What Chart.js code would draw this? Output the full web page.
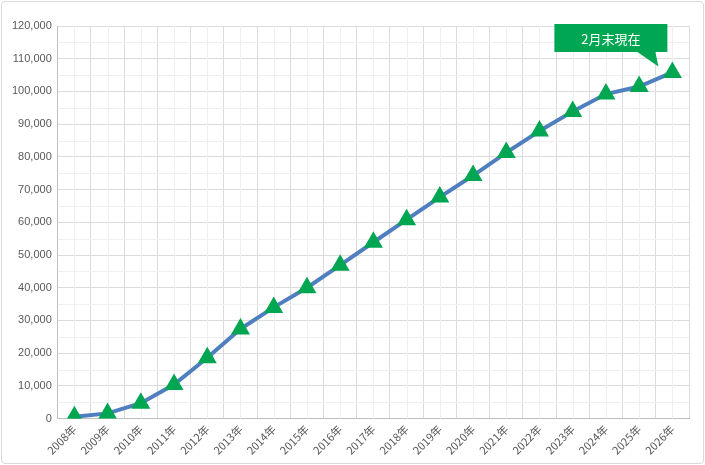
<!DOCTYPE html>
<html>
<head>
<meta charset="utf-8">
<script src="https://cdn.jsdelivr.net/npm/chart.js@4"></script>
<style>
    body { margin: 0; background: #fff; }
    #wrap { position: absolute; left: 1px; top: 1px; width: 701px; height: 461px; border: 1px solid #d9d9d9; border-radius: 4px; }
</style>
</head>
<body>
<div id="wrap"><canvas id="chart"></canvas></div>
<script>
// Data
const years = ['2008年', '2009年', '2010年', '2011年', '2012年', '2013年', '2014年', '2015年', '2016年', '2017年',
    '2018年', '2019年', '2020年', '2021年', '2022年', '2023年', '2024年', '2025年', '2026年'];
const counts = [600, 1600, 4700, 10400, 18600, 27400, 34000, 40000, 46900, 53900,
    60800, 67700, 74300, 81300, 87900, 93900, 99200, 101500, 105800];
const calloutText = '2月末現在';

// minor grid: half steps on both axes
const minorGrid = {
    id: 'minorGrid',
    beforeDatasetsDraw(chart) {
        const { ctx, chartArea: a, scales: { x, y } } = chart;
        ctx.save();
        ctx.strokeStyle = '#efefef';
        ctx.lineWidth = 1;
        for (let i = 0; i < years.length; i++) {
            const px = Math.round(x.getPixelForValue(i)) + 0.5;
            ctx.beginPath(); ctx.moveTo(px, a.top); ctx.lineTo(px, a.bottom); ctx.stroke();
        }
        for (let v = 5000; v < 120000; v += 10000) {
            const py = Math.round(y.getPixelForValue(v)) + 0.5;
            ctx.beginPath(); ctx.moveTo(a.left, py); ctx.lineTo(a.right, py); ctx.stroke();
        }
        ctx.restore();
    }
};

// callout box pointing at the last point
const callout = {
    id: 'callout',
    afterDatasetsDraw(chart) {
        const { ctx } = chart;
        const pt = chart.getDatasetMeta(0).data[counts.length - 1];
        const tx = pt.x - 14, ty = pt.y - 6;
        const bx = tx - 104, by = 22, bw = 113, bh = 28;
        ctx.save();
        ctx.fillStyle = '#00a651';
        ctx.beginPath();
        ctx.moveTo(bx, by);
        ctx.lineTo(bx + bw, by);
        ctx.lineTo(bx + bw, by + bh);
        ctx.lineTo(bx + bw - 12, by + bh);
        ctx.lineTo(tx, ty);
        ctx.lineTo(bx + bw - 30, by + bh);
        ctx.lineTo(bx, by + bh);
        ctx.closePath();
        ctx.fill();
        ctx.fillStyle = '#fff';
        ctx.font = '13px "Noto Sans CJK JP"';
        ctx.textAlign = 'center';
        ctx.textBaseline = 'middle';
        ctx.fillText(calloutText, bx + bw / 2, by + bh / 2 + 1);
        ctx.restore();
    }
};

new Chart(document.getElementById('chart'), {
    type: 'line',
    data: {
        labels: years,
        datasets: [{
            data: counts,
            borderColor: '#4f7fbf',
            borderWidth: 4,
            pointStyle: 'triangle',
            pointRadius: 7,
            pointBackgroundColor: '#00a651',
            pointBorderColor: '#00a651',
            tension: 0
        }]
    },
    options: {
        responsive: true,
        maintainAspectRatio: false,
        animation: false,
        layout: { padding: { top: 24, right: 14, left: 4, bottom: 2 } },
        plugins: { legend: { display: false }, tooltip: { enabled: false } },
        scales: {
            x: {
                offset: true,
                grid: { color: '#dcdcdc', offset: true, drawTicks: false },
                border: { color: '#bfbfbf' },
                ticks: { color: '#595959', font: { size: 11, family: '"Noto Sans CJK JP"' }, maxRotation: 45, minRotation: 45, padding: 4 }
            },
            y: {
                min: 0, max: 120000,
                grid: { color: '#dcdcdc', drawTicks: false },
                border: { color: '#bfbfbf' },
                ticks: { stepSize: 10000, color: '#595959', font: { size: 11, family: 'Liberation Sans' }, padding: 6,
                    callback: v => v.toLocaleString('en-US') }
            }
        }
    },
    plugins: [minorGrid, callout]
});
</script>
</body>
</html>
